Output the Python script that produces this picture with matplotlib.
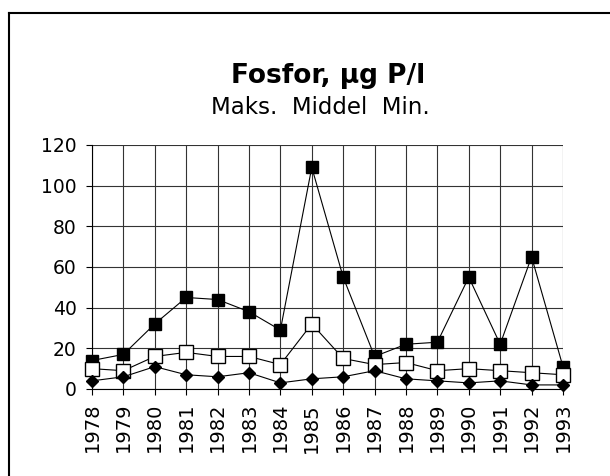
import matplotlib
matplotlib.use("Agg")
import matplotlib.pyplot as plt
from matplotlib.lines import Line2D

years = [1978, 1979, 1980, 1981, 1982, 1983, 1984, 1985,
         1986, 1987, 1988, 1989, 1990, 1991, 1992, 1993]
maks = [14, 17, 32, 45, 44, 38, 29, 109, 55, 16, 22, 23, 55, 22, 65, 11]
middel = [10, 9, 16, 18, 16, 16, 12, 32, 15, 12, 13, 9, 10, 9, 8, 7]
minimum = [4, 6, 11, 7, 6, 8, 3, 5, 6, 9, 5, 4, 3, 4, 2, 2]
y_ticks = [0, 20, 40, 60, 80, 100, 120]

plt.rcParams["font.family"] = "DejaVu Sans"

fig = plt.figure(figsize=(6.1, 4.76), dpi=100)
ax = fig.add_axes([0.1508, 0.1828, 0.7721, 0.5126])

ax.plot(years, maks, color="black", lw=0.8, marker="s", ms=8,
        mfc="black", mec="black", clip_on=False, zorder=4)
ax.plot(years, middel, color="black", lw=0.8, marker="s", ms=10,
        mfc="white", mec="black", mew=1.0, clip_on=False, zorder=5)
ax.plot(years, minimum, color="black", lw=0.8, marker="D", ms=6.5,
        mfc="black", mec="black", clip_on=False, zorder=6)

ax.set_xlim(1978, 1993)
ax.set_ylim(0, 120)
ax.set_xticks(years)
ax.set_xticklabels([str(y) for y in years], rotation=90, fontsize=14)
ax.set_yticks(y_ticks)
ax.set_yticklabels([str(v) for v in y_ticks], fontsize=13.5)
ax.grid(True, color="0.2", lw=0.8)
ax.set_axisbelow(True)
for s in ["top", "right"]:
    ax.spines[s].set_visible(False)
ax.spines["left"].set_linewidth(0.8)
ax.spines["bottom"].set_linewidth(0.8)
ax.tick_params(axis="both", direction="out", length=4, width=0.8)
ax.tick_params(axis="y", pad=7)
ax.tick_params(axis="x", pad=6)

fig.text(0.538, 0.84, "Fosfor, µg P/l", ha="center", va="center",
         fontsize=19, fontweight="bold")
fig.text(0.526, 0.775, "Maks.  Middel  Min.", ha="center", va="center",
         fontsize=16.5)

# ramme rundt om figuren
fig.add_artist(Line2D([0.0148, 0.0148], [0, 0.9727], color="black", lw=1.5,
                      transform=fig.transFigure))
fig.add_artist(Line2D([0.0148, 1.0], [0.9727, 0.9727], color="black", lw=1.5,
                      transform=fig.transFigure))

fig.savefig("out.png", dpi=100)
